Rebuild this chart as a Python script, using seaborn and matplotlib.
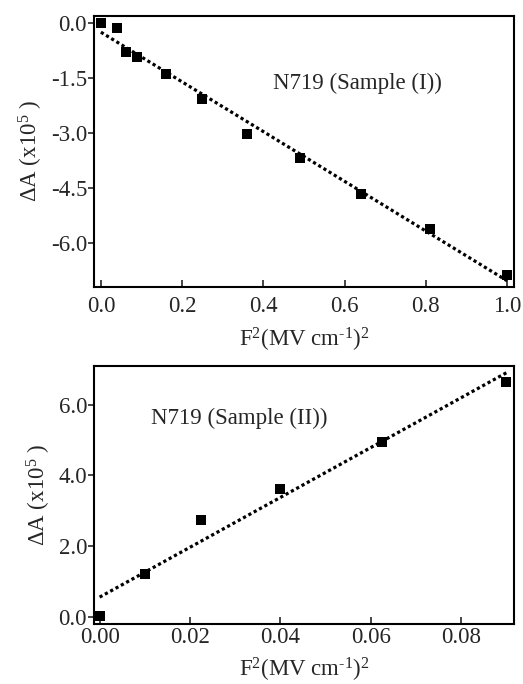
import numpy as np
import pandas as pd
import matplotlib
matplotlib.use("Agg")
import matplotlib.pyplot as plt
import seaborn as sns
from matplotlib.ticker import FormatStrFormatter

# Electroabsorption signal vs squared field, two N719 samples
f2_sample1 = [0.0, 0.04, 0.0625, 0.09, 0.16, 0.25, 0.36, 0.49, 0.64, 0.81, 1.0]
dA_sample1 = [0.0, -0.14, -0.79, -0.93, -1.39, -2.06, -3.03, -3.68, -4.67, -5.62, -6.88]

f2_sample2 = [0.0, 0.01, 0.0225, 0.04, 0.0625, 0.09]
dA_sample2 = [0.02, 1.20, 2.74, 3.62, 4.96, 6.66]

label_1 = "N719 (Sample (I))"
label_2 = "N719 (Sample (II))"
xlabel = r"F$^2$(MV cm$^{\text{-}1}$)$^2$"
ylabel = r"ΔA (x10$^5$ )"

sns.set_style("white")
plt.rcParams["font.family"] = ["Liberation Serif", "DejaVu Serif"]
plt.rcParams["mathtext.fontset"] = "custom"
plt.rcParams["mathtext.rm"] = "Liberation Serif"
plt.rcParams["mathtext.it"] = "Liberation Serif:italic"
plt.rcParams["axes.unicode_minus"] = False

FS = 16.5
fig = plt.figure(figsize=(5.23, 6.84), dpi=100)
ax1 = fig.add_axes([0.1797, 0.5804, 0.8031, 0.3962])
ax2 = fig.add_axes([0.1797, 0.0877, 0.8031, 0.3772])

line_kws = dict(color="black", linewidth=2.3, linestyle=(0, (1, 0.9)),
                dash_capstyle="butt")
scatter_kws = dict(s=50, color="black", alpha=1, linewidths=0, zorder=3)

df1 = pd.DataFrame({"F2": f2_sample1, "dA": dA_sample1})
df2 = pd.DataFrame({"F2": f2_sample2, "dA": dA_sample2})

for ax, df in ((ax1, df1), (ax2, df2)):
    sns.regplot(data=df, x="F2", y="dA", ax=ax, ci=None, marker="s",
                scatter_kws=scatter_kws, line_kws=line_kws, truncate=True)

ax1.set_xlim(-0.017, 1.017)
ax1.set_ylim(-7.21, 0.2)
ax1.set_xticks([0.0, 0.2, 0.4, 0.6, 0.8, 1.0])
ax1.set_yticks([0.0, -1.5, -3.0, -4.5, -6.0])
ax1.xaxis.set_major_formatter(FormatStrFormatter("%.1f"))
ax1.yaxis.set_major_formatter(FormatStrFormatter("%.1f"))
ax1.text(0.426, 0.753, label_1, transform=ax1.transAxes, fontsize=FS,
         ha="left", va="center")

ax2.set_xlim(-0.00125, 0.0917)
ax2.set_ylim(-0.21, 7.1)
ax2.set_xticks([0.0, 0.02, 0.04, 0.06, 0.08])
ax2.set_yticks([0.0, 2.0, 4.0, 6.0])
ax2.xaxis.set_major_formatter(FormatStrFormatter("%.2f"))
ax2.yaxis.set_major_formatter(FormatStrFormatter("%.1f"))
ax2.text(0.136, 0.795, label_2, transform=ax2.transAxes, fontsize=FS,
         ha="left", va="center")

for ax, xpad, lpad in ((ax1, 6.5, 6.5), (ax2, 2.5, 5.5)):
    ax.set_xlabel(xlabel, fontsize=FS, labelpad=lpad)
    ax.set_ylabel(ylabel, fontsize=FS, labelpad=4)
    for sp in ax.spines.values():
        sp.set_visible(True)
        sp.set_color("black")
        sp.set_linewidth(1.5)
    ax.tick_params(axis="x", direction="in", length=5, width=1.2,
                   labelsize=FS, pad=xpad, bottom=True, top=False)
    ax.tick_params(axis="y", direction="out", length=4, width=1.2,
                   labelsize=FS, pad=1, left=True, right=False)
    ax.grid(False)

fig.savefig("out.png", dpi=100)
